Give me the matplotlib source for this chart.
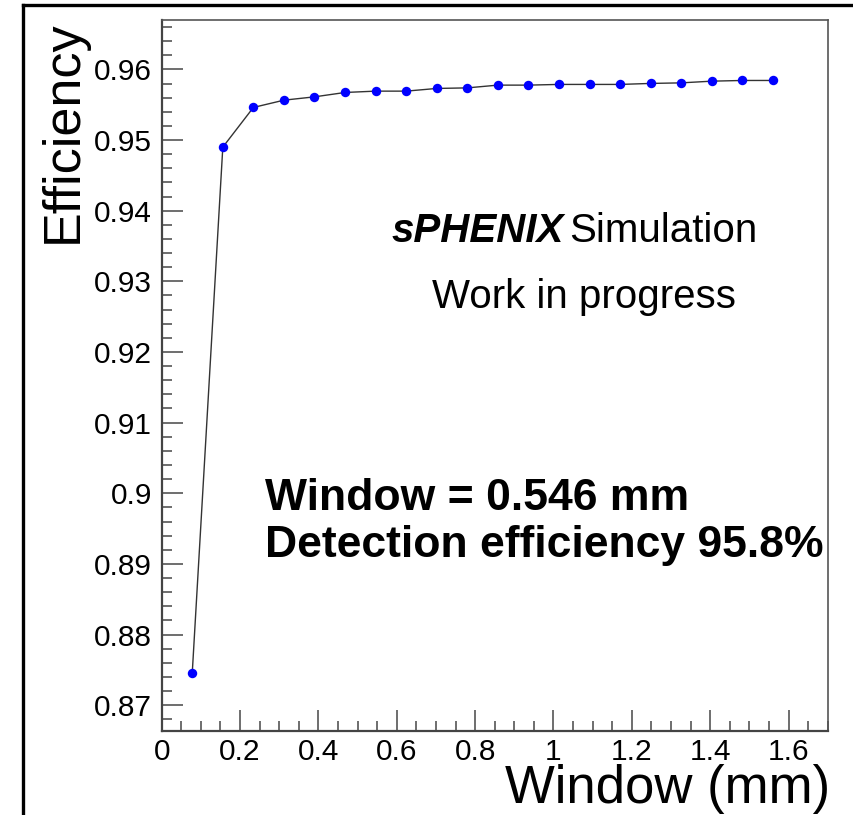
import matplotlib
matplotlib.use("Agg")
import matplotlib.pyplot as plt
from matplotlib.ticker import MultipleLocator, FormatStrFormatter
from matplotlib.lines import Line2D
import numpy as np

# Scan of the matching window (mm) and the resulting detection efficiency
window_mm = [0.078, 0.156, 0.234, 0.312, 0.390, 0.468, 0.546, 0.624, 0.702, 0.780,
             0.858, 0.936, 1.014, 1.092, 1.170, 1.248, 1.326, 1.404, 1.482, 1.560]
efficiency = [0.87457, 0.94900, 0.95462, 0.95565, 0.95612, 0.95674, 0.95693, 0.95693,
              0.95731, 0.95739, 0.95778, 0.95778, 0.95788, 0.95788, 0.95788, 0.95802,
              0.95810, 0.95834, 0.95844, 0.95844]

x_label = "Window (mm)"
y_label = "Efficiency"
x_range = (0.0, 1.70)
y_range = (0.8663, 0.9670)

W, H = 854, 815
fig = plt.figure(figsize=(W / 100, H / 100), dpi=100)
plt.rcParams["font.family"] = ["Liberation Sans", "DejaVu Sans"]

ax = fig.add_axes([161.7 / W, 1 - 731.3 / H, (827.7 - 161.7) / W, (731.3 - 20) / H])

ax.plot(window_mm, efficiency, color="#333333", lw=1.0, zorder=2)
ax.plot(window_mm, efficiency, ls="none", marker="o", ms=6.8, mfc="#0000ff",
        mec="#0000ff", mew=0, zorder=3)

ax.set_xlim(*x_range)
ax.set_ylim(*y_range)

ax.xaxis.set_major_locator(MultipleLocator(0.2))
ax.xaxis.set_minor_locator(MultipleLocator(0.05))
ax.yaxis.set_major_locator(MultipleLocator(0.01))
ax.yaxis.set_minor_locator(MultipleLocator(0.002))
ax.xaxis.set_major_formatter(FormatStrFormatter("%g"))
ax.yaxis.set_major_formatter(FormatStrFormatter("%g"))

tick_col = "#555555"
ax.tick_params(which="both", direction="in", color=tick_col, top=False, right=False,
               labelsize=21.5, labelcolor="black")
ax.tick_params(axis="y", which="major", length=15, width=1.2, pad=7)
ax.tick_params(axis="y", which="minor", length=7.5, width=1.2)
ax.tick_params(axis="x", which="major", length=15, width=1.2, pad=5)
ax.tick_params(axis="x", which="minor", length=7.5, width=1.2)

for side in ("left", "bottom"):
    ax.spines[side].set_color("#444444")
    ax.spines[side].set_linewidth(1.6)
for side in ("top", "right"):
    ax.spines[side].set_color("#555555")
    ax.spines[side].set_linewidth(1.2)

# Axis titles, ROOT style: aligned to the far ends of the axes
fig.text(63 / W, 1 - 20 / H, y_label, rotation=90, ha="center", va="top", fontsize=37.5)
fig.text(830 / W, 1 - 803 / H, x_label, ha="right", va="baseline", fontsize=38)

# Experiment tag
t1 = fig.text(392 / W, 1 - 242 / H, "sPHENIX", fontsize=29, fontweight="bold",
              fontstyle="italic", ha="left", va="baseline")
fig.canvas.draw()
bb = t1.get_window_extent()
fig.text((bb.x1 + 5) / W, 1 - 242 / H, "Simulation", fontsize=29, ha="left", va="baseline")
fig.text(432 / W, 1 - 308 / H, "Work in progress", fontsize=29, ha="left", va="baseline")

# Working point annotation
fig.text(265 / W, 1 - 510 / H, "Window = 0.546 mm", fontsize=32, fontweight="bold",
         ha="left", va="baseline")
fig.text(265 / W, 1 - 557 / H, "Detection efficiency 95.8%", fontsize=32,
         fontweight="bold", ha="left", va="baseline")

# Outer frame (left and top edges)
fig.add_artist(Line2D([23 / W, 23 / W], [0, 1 - 5 / H], transform=fig.transFigure,
                      color="black", lw=2.4))
fig.add_artist(Line2D([23 / W, 1.0], [1 - 5 / H, 1 - 5 / H], transform=fig.transFigure,
                      color="black", lw=2.4))

fig.savefig("out.png", dpi=100)
